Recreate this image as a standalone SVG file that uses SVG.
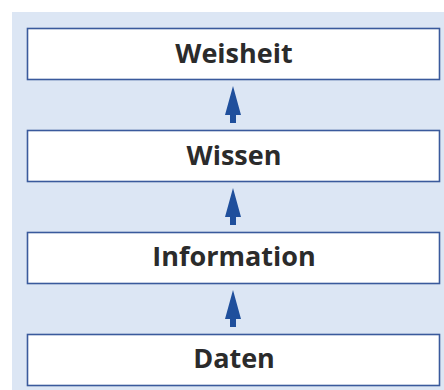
<svg xmlns="http://www.w3.org/2000/svg" width="444" height="390" viewBox="0 0 444 390">
<defs>
<style>
.bg{fill:#dce6f4}
.box{fill:#ffffff;stroke:#3a5a9c;stroke-width:1.6}
.lbl{font-family:"Open Sans","DejaVu Sans",sans-serif;font-weight:bold;font-size:27px;fill:#2b2b2b;text-anchor:middle}
.arr{fill:#1f4f9c}
</style>
</defs>
<rect class="bg" x="12" y="12" width="432" height="378"/>
<g id="connectors">
<path class="arr" d="M233,86 L241,115 L236,115 L236,123 L230,123 L230,115 L225,115 Z"/>
<path class="arr" d="M233,188 L241,217 L236,217 L236,225 L230,225 L230,217 L225,217 Z"/>
<path class="arr" d="M233,290 L241,319 L236,319 L236,327 L230,327 L230,319 L225,319 Z"/>
</g>
<g id="weisheit">
<rect class="box" x="27.5" y="28.5" width="412" height="51"/>
<text class="lbl" x="234" y="63">Weisheit</text>
</g>
<g id="wissen">
<rect class="box" x="27.5" y="130.5" width="412" height="51"/>
<text class="lbl" x="234" y="165">Wissen</text>
</g>
<g id="information">
<rect class="box" x="27.5" y="232.5" width="412" height="51"/>
<text class="lbl" x="234" y="266">Information</text>
</g>
<g id="daten">
<rect class="box" x="27.5" y="334.5" width="412" height="51"/>
<text class="lbl" x="234" y="368">Daten</text>
</g>
</svg>
